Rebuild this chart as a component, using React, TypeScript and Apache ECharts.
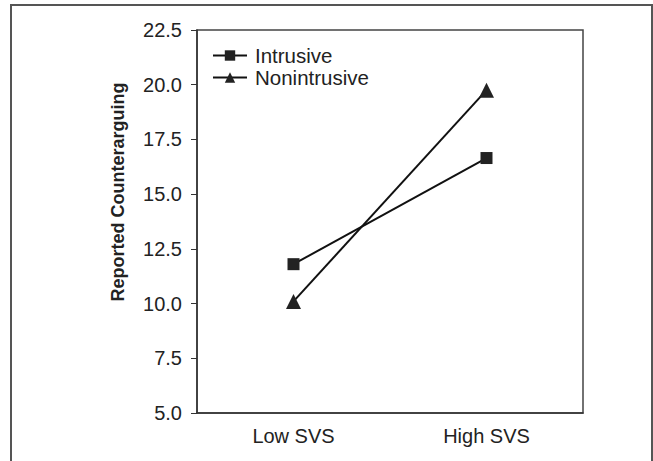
import React, { useEffect, useRef } from "react";
import * as echarts from "echarts";

const categories = ["Low SVS", "High SVS"];
const intrusive = [11.8, 16.65];
const nonintrusive = [10.1, 19.75];
const seriesNames = ["Intrusive", "Nonintrusive"];
const yTitle = "Reported Counterarguing";

export default function App() {
  const ref = useRef<HTMLDivElement>(null);
  useEffect(() => {
    const chart = echarts.init(ref.current!, null, { renderer: "svg" });
    const font = "Liberation Sans, Arial, Helvetica, sans-serif";
    chart.setOption({
      animation: false,
      backgroundColor: "#fff",
      grid: { left: 197, top: 30, right: 70, bottom: 48, show: true, borderColor: "#444", borderWidth: 1.5 },
      legend: {
        orient: "vertical",
        left: 212,
        top: 45,
        padding: 0,
        itemWidth: 34,
        itemHeight: 13,
        itemGap: 1,
        textStyle: { fontFamily: font, fontSize: 20.5, color: "#222", padding: [0, 0, 0, 3] },
        data: seriesNames,
      },
      xAxis: {
        type: "category",
        data: categories,
        axisLine: { lineStyle: { color: "#333", width: 1.5 } },
        axisTick: { alignWithLabel: true, length: 6, lineStyle: { color: "#333" } },
        axisLabel: { fontFamily: font, fontSize: 20, color: "#222", margin: 13 },
      },
      yAxis: {
        type: "value",
        min: 5,
        max: 22.5,
        interval: 2.5,
        splitLine: { show: false },
        axisLine: { show: true, lineStyle: { color: "#333", width: 1.5 } },
        axisTick: { show: true, length: 6, lineStyle: { color: "#333" } },
        axisLabel: {
          fontFamily: font,
          fontSize: 20,
          color: "#222",
          margin: 15,
          formatter: (v: number) => v.toFixed(1),
        },
      },
      graphic: [
        {
          type: "rect",
          shape: { x: 11, y: 5, width: 641, height: 480 },
          style: { fill: "none", stroke: "#555", lineWidth: 2 },
          silent: true,
        },
        {
          type: "text",
          x: 118,
          y: 192,
          rotation: Math.PI / 2,
          style: {
            text: yTitle,
            fontFamily: font,
            fontSize: 18,
            fontWeight: "bold",
            fill: "#222",
            textAlign: "center",
            textVerticalAlign: "middle",
          },
        },
      ],
      series: [
        {
          name: seriesNames[0],
          type: "line",
          data: intrusive,
          symbol: "rect",
          symbolSize: 12,
          lineStyle: { color: "#111", width: 2 },
          itemStyle: { color: "#222" },
        },
        {
          name: seriesNames[1],
          type: "line",
          data: nonintrusive,
          symbol: "triangle",
          symbolSize: 15,
          lineStyle: { color: "#111", width: 2 },
          itemStyle: { color: "#222" },
        },
      ],
    });
    return () => chart.dispose();
  }, []);
  return <div ref={ref} style={{ position: "absolute", left: 0, top: 0, width: 653, height: 461 }} />;
}
